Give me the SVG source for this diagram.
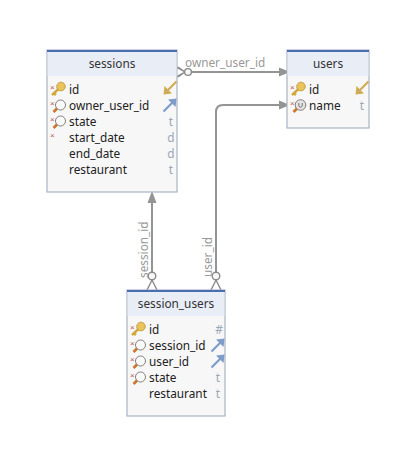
<svg xmlns="http://www.w3.org/2000/svg" width="416" height="464" viewBox="0 0 416 464">
<style>
.box{fill:#f7f7f7;stroke:#a9b4c9;stroke-width:1.2}
.head{fill:#e8edf6}
.bar{fill:#4a70b0}
text{font-family:"Noto Sans","Open Sans","Liberation Sans",sans-serif;font-size:11.8px;fill:#222}
.title{text-anchor:middle;fill:#333}
.type{fill:#9aa7b8;text-anchor:middle}
.lab{fill:#999}
.req{fill:#c0504d;font-size:8px;font-family:"Liberation Sans",sans-serif}
.conn{fill:none;stroke:#949494;stroke-width:2}
.thin{fill:none;stroke:#8a8a8a;stroke-width:1.4}
.ah{fill:#949494;stroke:none}
.o{fill:#f7f7f7;stroke:#8a8a8a;stroke-width:1.4}
</style>
<defs>
<g id="key"><circle cx="4" cy="-3.500" r="4.300" fill="#e8c45a" stroke="#b8912e" stroke-width="0.8"/><path d="M1.500,-1 L-5,5 M-3,3.200 L-1,5" fill="none" stroke="#d1a93c" stroke-width="2.400"/></g>
<g id="lens"><circle cx="2.500" cy="-2" r="5" fill="#fafafa" stroke="#7f7f7f" stroke-width="1"/><path d="M-1,1.500 L-4.500,5" stroke="#c9772a" stroke-width="2.600" fill="none"/></g>
<g id="ulens"><circle cx="2.500" cy="-2" r="5.300" fill="#e4e4e4" stroke="#7f7f7f" stroke-width="1"/><path d="M-1,1.500 L-4.500,5" stroke="#c9772a" stroke-width="2.600" fill="none"/><path d="M0.800,-4 V-1.500 A1.700,1.700 0 0 0 4.200,-1.500 V-4" fill="none" stroke="#666" stroke-width="0.9"/></g>
<g id="goldarrow"><path d="M6.500,-6.500 L-3,3" stroke="#d0ad55" stroke-width="2.200" fill="none"/><path d="M-6.500,6.500 L-5.500,-2 L2,5.500 Z" fill="#d0ad55"/></g>
<g id="bluearrow"><path d="M-6.500,6.500 L3,-3" stroke="#7d9cc9" stroke-width="2.200" fill="none"/><path d="M6.500,-6.500 L5.500,2 L-2,-5.500 Z" fill="#7d9cc9"/></g>
</defs>
<g id="connectors">
<path class="conn" d="M191,72 H280"/><path class="ah" d="M290,72 L279,67.500 V76.500 Z"/>
<path class="thin" d="M176,67 L185,72 L176,77 M178,77 L185,72 M178,67 L185,72"/><circle class="o" cx="188" cy="72" r="3.400"/>
<path class="conn" d="M152,272 V199"/><path class="ah" d="M152,191 L147.500,203 H156.500 Z"/>
<path class="thin" d="M152,280 L147,290 M152,280 L157,290"/><circle class="o" cx="152" cy="276" r="3.800"/>
<path class="conn" d="M216,272 V112 Q216,105 223,105 H280"/><path class="ah" d="M290,105 L279,100.500 V109.500 Z"/>
<path class="thin" d="M216,280 L211,290 M216,280 L221,290"/><circle class="o" cx="216" cy="276" r="3.800"/>
<text class="lab" x="185" y="67">owner_user_id</text>
<text class="lab" transform="translate(148,278) rotate(-90)">session_id</text>
<text class="lab" transform="translate(212,277) rotate(-90)">user_id</text>
</g>
<g id="sessions">
<rect class="box" x="47" y="50" width="130" height="142"/><rect class="head" x="47.600" y="52" width="128.800" height="24"/><rect class="bar" x="47" y="50" width="130" height="2"/>
<text class="title" x="112" y="67.500">sessions</text>
<text class="req" x="50" y="90">×</text><use href="#key" x="57" y="90"/><text x="69" y="93.500">id</text><use href="#goldarrow" x="170" y="88"/>
<text class="req" x="50" y="106">×</text><use href="#lens" x="58" y="107"/><text x="69" y="109.500">owner_user_id</text><use href="#bluearrow" x="170" y="105"/>
<text class="req" x="50" y="122">×</text><use href="#lens" x="58" y="123"/><text x="69" y="125.500">state</text><text class="type" x="171" y="125.500">t</text>
<text class="req" x="50" y="138">×</text><text x="69" y="141.500">start_date</text><text class="type" x="171" y="141.500">d</text>
<text x="69" y="157.500">end_date</text><text class="type" x="171" y="157.500">d</text>
<text x="69" y="173.500">restaurant</text><text class="type" x="171" y="173.500">t</text>
</g>
<g id="users">
<rect class="box" x="287" y="50" width="82" height="78"/><rect class="head" x="287.600" y="52" width="80.800" height="24"/><rect class="bar" x="287" y="50" width="82" height="2"/>
<text class="title" x="328" y="67.500">users</text>
<text class="req" x="290" y="90">×</text><use href="#key" x="297" y="90"/><text x="309" y="93.500">id</text><use href="#goldarrow" x="362" y="88"/>
<text class="req" x="290" y="106">×</text><use href="#ulens" x="298" y="107"/><text x="309" y="109.500">name</text><text class="type" x="362" y="109.500">t</text>
</g>
<g id="session_users">
<rect class="box" x="127" y="290" width="98" height="126"/><rect class="head" x="127.600" y="292" width="96.800" height="24"/><rect class="bar" x="127" y="290" width="98" height="2"/>
<text class="title" x="176" y="308">session_users</text>
<text class="req" x="130" y="330">×</text><use href="#key" x="137" y="330"/><text x="149" y="334">id</text><text class="type" x="219" y="334">#</text>
<text class="req" x="130" y="346">×</text><use href="#lens" x="138" y="347"/><text x="149" y="350">session_id</text><use href="#bluearrow" x="218" y="345"/>
<text class="req" x="130" y="362">×</text><use href="#lens" x="138" y="363"/><text x="149" y="366">user_id</text><use href="#bluearrow" x="218" y="361"/>
<text class="req" x="130" y="378">×</text><use href="#lens" x="138" y="379"/><text x="149" y="382">state</text><text class="type" x="218" y="382">t</text>
<text x="149" y="398">restaurant</text><text class="type" x="218" y="398">t</text>
</g>
</svg>
